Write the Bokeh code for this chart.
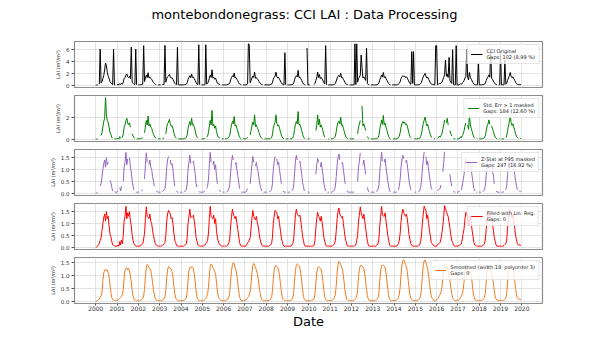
import numpy as np
import pandas as pd
from bokeh.plotting import figure
from bokeh.layouts import column
from bokeh.models import Range1d, FixedTicker, DatetimeTickFormatter, PrintfTickFormatter
from bokeh.embed import file_html
from bokeh.resources import INLINE

nan = float("nan")

# ---------------- data (two samples per month: day 1 and day 16) ----------------
years = list(range(2000, 2020))
sample_days = [1, 16]
year_ticks = list(range(2000, 2021))
title_text = "montebondonegrass: CCI LAI : Data Processing"

lai_original = [
    0.0, 0.02, 0.05, nan, 0.15, 6.1, 0.35, 0.6, 1.1, 1.6, 2.6, 3.75, 3.3, 2.2, 1.5, 1.1, 0.6, 0.35, 0.2, 0.1, 6.1, 0.05, 0.05, nan,
    0.05, 0.1, 0.05, 0.25, 0.1, 0.3, 0.15, 0.5, 1.1, 1.3, 1.72, 1.9, 1.45, 1.3, 1.5, 1.1, 6.45, 0.5, 0.3, 0.15, 0.1, 6.1, 0.05, nan,
    0.05, 0.05, 0.05, 0.1, 0.1, 0.15, 6.7, 0.6, 1.2, 1.7, 1.3, 2.1, 1.2, 1.4, 1.1, 1.0, 0.7, 0.45, 0.3, 0.15, 0.1, nan, 0.05, 0.05,
    0.05, 0.05, nan, 0.08, 0.1, 0.1, 6.75, 0.5, 1.1, 1.4, 1.55, 1.8, 1.4, 1.2, 1.25, 1.0, 0.6, 0.3, 0.15, 0.1, 6.4, 0.05, 0.05, 0.05,
    0.05, 0.05, 0.05, 0.05, 0.1, 0.1, 0.15, 0.4, 1.0, 1.3, 1.6, 1.25, 1.9, 1.3, 1.35, 1.1, 0.8, 0.4, 0.2, 0.1, 6.85, 0.05, nan, 0.05,
    0.05, 0.05, 0.05, 0.1, 6.85, 0.2, 0.3, 0.6, 1.2, 1.72, 1.3, 2.6, 1.2, 1.35, 1.0, 1.2, 0.7, 0.4, 0.2, 0.15, 0.1, nan, 0.05, 0.05,
    0.05, 0.05, 0.05, 0.05, 0.1, 0.1, 0.2, 0.35, 0.9, 1.3, 1.6, 1.4, 2.05, 1.2, 1.3, 1.0, 0.75, 0.4, 0.2, 0.1, 0.05, nan, 0.05, 0.05,
    0.05, 0.05, 0.1, 0.2, 7.0, 6.9, 0.4, 0.8, 1.2, 1.55, 1.3, 2.2, 1.15, 1.3, 1.05, 0.9, 0.6, 0.35, 0.2, 0.1, 0.05, nan, 0.05, 0.05,
    0.05, 0.05, 0.05, 0.05, 0.05, 0.1, 0.15, 0.4, 1.0, 1.3, 1.55, 2.2, 1.45, 1.2, 1.3, 1.0, 0.7, 0.4, 0.2, 0.1, 0.05, 5.5, 0.05, nan,
    0.05, 0.05, 0.05, 0.05, 0.05, 0.08, 0.15, 0.35, 0.9, 1.35, 1.6, 1.4, 2.5, 1.3, 1.35, 1.1, 0.8, 0.45, 0.2, 0.1, 0.05, nan, 6.3, 0.05,
    0.05, 0.05, nan, nan, 0.05, nan, 0.1, 0.3, 0.8, 1.2, 2.2, 1.3, 1.8, 1.1, 1.3, 1.05, 0.75, 0.4, 0.2, 6.7, 0.05, nan, 0.05, 0.05,
    0.05, 0.05, 0.05, 0.05, 0.1, 0.15, 0.3, 0.7, 1.2, 1.5, 1.65, 1.4, 2.0, 1.25, 1.3, 1.0, 0.7, 0.4, 0.2, 0.1, 0.05, nan, 0.05, 0.05,
    0.05, 0.05, 0.05, 0.05, 7.0, 0.1, 7.0, 0.5, 1.1, 1.35, 1.7, 5.1, 3.0, 1.2, 1.4, 1.1, 0.8, 6.3, 0.25, 0.1, 0.05, nan, 0.05, 0.05,
    0.05, 0.05, 0.05, 0.05, 0.05, 0.1, 0.15, 0.35, 0.9, 1.3, 1.72, 1.35, 2.15, 1.3, 1.45, 1.1, 0.8, 0.5, 0.25, 0.1, 0.05, nan, 0.05, 0.05,
    0.05, 0.05, 0.05, 0.05, 0.1, 0.15, 0.3, 0.6, 1.1, 1.4, 1.6, 1.45, 1.55, 1.3, 1.4, 1.2, 0.85, 0.5, 0.25, 0.15, 5.7, 0.3, 5.7, 0.05,
    0.05, 0.05, 0.05, 0.05, 0.1, 0.1, 0.25, 0.5, 1.0, 1.4, 1.73, 2.0, 1.55, 1.2, 1.35, 1.0, 0.7, 0.4, 0.2, 0.15, 0.1, 0.05, 0.05, 6.7,
    6.7, 0.1, 0.15, 0.3, 0.2, 0.35, 0.5, 0.9, 1.3, 1.75, 4.25, 1.5, 1.9, 1.3, 4.7, 0.8, 0.5, 0.3, 6.0, 0.1, 0.05, 0.05, 6.7, 0.05,
    0.05, 0.05, 0.1, 0.25, 0.15, 0.35, 0.5, 0.8, 1.2, 1.47, 6.1, 1.3, 0.9, 2.15, 1.3, 1.0, 0.7, 0.4, 0.2, 0.1, 0.05, 0.05, 0.05, 3.8,
    0.05, 0.05, 0.05, 0.05, 0.1, 0.1, 0.15, 0.35, 0.8, 1.2, 1.4, 1.75, 1.35, 5.7, 1.2, 0.95, 0.7, 0.4, 0.2, 0.1, 0.05, nan, 0.05, 0.05,
    5.7, 0.05, 0.05, 0.05, 0.05, 4.25, 0.15, 0.3, 0.8, 1.2, 1.6, 2.15, 1.5, 1.25, 1.4, 1.1, 0.8, 0.5, 0.25, 0.15, 0.1, 0.08, 0.1, 0.08,
]

lai_stderr_masked = [
    0.0, 0.02, 0.05, nan, 0.15, nan, 0.35, 0.6, 1.1, 1.6, 1.9, 3.75, 2.2, 1.7, 1.5, 1.1, 0.6, 0.45, 0.2, 0.1, nan, 0.05, 0.05, 0.05,
    0.05, 0.1, 0.05, 0.25, 0.1, nan, 0.15, 0.5, 1.1, 1.3, 1.72, 1.9, 1.45, 1.3, 1.5, 1.1, nan, 0.5, 0.3, 0.15, 0.1, nan, 0.05, 0.05,
    0.05, 0.05, 0.05, 0.1, 0.1, 0.15, nan, 0.6, 1.2, 1.7, 1.3, 2.1, 1.2, 1.4, 1.1, 1.0, 0.7, 0.45, 0.3, 0.15, 0.1, nan, 0.05, 0.05,
    0.05, 0.05, nan, 0.08, 0.1, 0.1, nan, 0.5, 1.1, 1.4, 1.55, 1.8, 1.4, 1.2, 1.25, 1.0, 0.6, 0.3, 0.15, 0.1, nan, 0.05, 0.05, 0.05,
    0.05, 0.05, 0.05, 0.05, 0.1, 0.1, 0.15, 0.4, 1.0, 1.3, 1.6, 1.25, 1.9, 1.3, 1.35, 1.1, 0.8, 0.4, 0.2, 0.1, nan, 0.05, nan, 0.05,
    0.05, 0.05, 0.05, 0.1, nan, 0.2, 0.3, 0.6, 1.2, 1.72, 1.3, 2.6, 1.2, 1.35, 1.0, 1.2, 0.7, 0.4, 0.2, 0.15, 0.1, nan, 0.05, 0.05,
    0.05, nan, 0.05, 0.05, 0.1, 0.1, 0.2, 0.35, 0.9, 1.3, 1.6, 1.4, 2.05, 1.2, 1.3, 1.0, 0.75, 0.4, 0.2, 0.1, 0.05, nan, 0.05, 0.05,
    0.05, 0.05, 0.1, 0.2, nan, nan, 0.4, 0.8, 1.2, 1.55, 1.3, 2.2, 1.15, 1.3, 1.05, 0.9, 0.6, 0.35, 0.2, 0.1, 0.05, nan, 0.05, 0.05,
    0.05, 0.05, 0.05, 0.05, 0.05, 0.1, 0.15, 0.4, 1.0, 1.3, 1.55, 2.2, 1.45, 1.2, 1.3, 1.0, 0.7, 0.4, 0.2, 0.1, 0.05, nan, 0.05, 0.05,
    0.05, 0.05, nan, 0.05, 0.05, 0.08, 0.15, 0.35, 0.9, 1.35, 1.6, 1.4, 2.5, 1.3, 1.35, 1.1, 0.8, 0.45, 0.2, 0.1, 0.05, nan, nan, 0.05,
    0.05, 0.05, nan, nan, nan, nan, nan, nan, 0.8, 1.2, 2.2, 1.3, 1.8, 1.1, 1.3, 1.05, 0.75, 0.4, 0.2, nan, 0.05, nan, 0.05, 0.05,
    nan, 0.05, 0.05, 0.05, 0.1, 0.15, 0.3, 0.7, 1.2, 1.5, 1.65, 1.4, 2.0, 1.25, 1.3, 1.0, 0.7, 0.4, 0.2, 0.1, 0.05, nan, 0.05, 0.05,
    0.05, 0.05, 0.05, 0.05, nan, 0.1, nan, 0.5, 1.1, 1.35, 1.7, nan, 3.0, 1.2, 1.4, 1.1, 0.8, nan, 0.25, 0.1, 0.05, nan, 0.05, 0.05,
    0.05, 0.05, 0.05, 0.05, 0.05, 0.1, 0.15, 0.35, 0.9, 1.3, 1.72, 1.35, 2.15, 1.3, 1.45, 1.1, 0.8, 0.5, 0.25, 0.1, 0.05, nan, nan, 0.05,
    0.05, 0.05, 0.05, 0.05, 0.1, 0.15, 0.3, 0.6, 1.1, 1.4, 1.6, 1.45, 1.55, 1.3, 1.4, 1.2, 0.85, 0.5, 0.25, 0.15, nan, 0.05, nan, 0.05,
    0.05, 0.05, 0.05, 0.05, 0.1, 0.1, 0.25, 0.5, 1.0, 1.4, 1.73, 2.0, 1.55, 1.2, 1.35, 1.0, 0.7, 0.4, 0.2, 0.15, nan, 0.05, 0.05, nan,
    nan, 0.1, 0.15, 0.3, 0.2, 0.35, 0.5, 0.9, 1.3, 1.75, nan, 1.5, 1.9, 1.3, nan, 0.8, 0.5, 0.3, nan, 0.1, 0.05, 0.05, nan, 0.05,
    0.05, 0.05, 0.1, 0.25, 0.15, 0.35, 0.5, 0.8, 1.2, 1.47, nan, 1.3, 0.9, 2.15, 1.3, 1.0, 0.7, 0.4, 0.2, 0.1, nan, 0.05, 0.05, nan,
    0.05, 0.05, 0.05, 0.05, 0.1, 0.1, 0.15, 0.35, 0.8, 1.2, 1.4, 1.75, 1.35, nan, 1.2, 0.95, 0.7, 0.4, 0.2, 0.1, 0.05, nan, 0.05, 0.05,
    nan, 0.05, 0.05, 0.05, 0.05, nan, 0.15, 0.3, 0.8, 1.2, 1.6, 2.15, 1.5, 1.25, 1.4, 1.1, 0.8, 0.5, 0.25, 0.15, 0.1, nan, 0.1, 0.08,
]

lai_zstat_masked = [
    0.0, 0.02, 0.05, nan, nan, 0.3, 0.4, 0.7, 1.0, 1.25, 1.4, 1.1, 1.5, 1.2, 1.3, nan, 0.55, 0.45, 0.25, 0.1, nan, 0.06, 0.05, 0.05,
    0.05, 0.1, nan, 0.25, 0.1, 0.3, nan, 0.5, 1.1, 1.3, 1.72, 1.2, 1.45, nan, 1.5, 1.1, 0.9, 0.5, 0.3, 0.15, nan, 0.05, 0.05, 0.05,
    0.05, 0.05, nan, 0.1, 0.12, 0.15, nan, 0.6, 1.2, 1.7, 1.3, nan, 1.2, 1.4, 1.1, 1.0, 0.7, 0.5, 0.3, nan, 0.1, 0.08, 0.05, 0.05,
    0.05, 0.05, nan, 0.08, 0.1, 0.15, 0.2, 0.5, 1.1, 1.4, 1.55, nan, 1.4, 1.2, 1.25, 1.0, 0.6, 0.3, nan, 0.1, 0.05, 0.05, nan, 0.05,
    0.05, 0.05, nan, 0.05, 0.08, 0.1, 0.15, 0.4, 1.0, 1.3, 1.6, 1.25, nan, 1.3, 1.35, 1.1, 0.8, 0.4, 0.25, nan, 0.08, 0.06, 0.05, 0.05,
    0.05, 0.05, 0.08, 0.1, nan, 0.2, 0.3, 0.6, 1.2, 1.72, 1.3, nan, 1.2, 1.35, 1.0, 1.2, 0.7, 0.4, nan, 0.15, 0.1, 0.08, nan, 0.05,
    0.05, 0.05, nan, 0.05, 0.08, 0.1, 0.2, 0.35, 0.9, 1.3, 1.6, 1.4, nan, 1.2, 1.3, 1.0, 0.75, 0.48, 0.2, nan, 0.05, 0.05, 0.05, 0.05,
    0.05, 0.05, 0.12, 0.2, nan, nan, 0.4, 0.8, 1.2, 1.55, 1.3, nan, 1.15, 1.3, 1.05, 0.9, 0.6, 0.35, 0.22, 0.1, nan, 0.05, 0.05, 0.05,
    0.05, 0.05, nan, 0.05, 0.08, 0.1, 0.15, 0.4, 1.0, 1.3, 1.55, nan, 1.45, 1.2, 1.3, 1.0, 0.7, 0.4, nan, 0.1, 0.05, 0.05, 0.05, nan,
    0.05, 0.05, 0.05, 0.05, nan, 0.1, 0.15, 0.35, 0.85, 1.35, 1.6, 1.4, nan, 1.3, 1.35, 1.1, 0.8, 0.45, 0.28, 0.1, nan, 0.05, nan, 0.05,
    0.05, 0.05, nan, nan, nan, nan, nan, nan, 0.8, 1.2, 1.47, 1.3, nan, 1.1, 1.3, 1.05, 0.75, 0.4, 0.25, 0.1, nan, 0.05, 0.05, 0.05,
    nan, 0.05, 0.05, 0.08, 0.1, 0.15, 0.3, 0.7, 1.2, 1.5, 1.65, 1.4, nan, 1.25, 1.3, 1.0, 0.7, 0.4, nan, 0.1, 0.05, 0.05, 0.05, 0.05,
    0.05, 0.05, 0.05, 0.05, nan, 0.1, nan, 0.5, 1.1, 1.35, 1.7, nan, nan, 1.2, 1.4, 1.1, 0.8, nan, 0.25, 0.1, 0.05, nan, 0.05, 0.05,
    0.05, 0.05, 0.05, nan, 0.08, 0.1, 0.15, 0.35, 0.9, 1.3, 1.72, 1.35, nan, 1.3, 1.45, 1.1, 0.8, 0.5, 0.3, 0.1, 0.05, nan, nan, 0.05,
    0.05, 0.05, 0.05, 0.05, nan, 0.15, 0.3, 0.6, 1.1, 1.4, 1.6, 1.45, nan, 1.3, 1.4, 1.2, 0.85, 0.5, 0.32, 0.15, nan, 0.05, nan, 0.05,
    0.05, 0.05, nan, 0.05, 0.08, 0.1, 0.25, 0.5, 1.0, 1.4, 1.73, nan, 1.55, 1.2, 1.35, 1.0, 0.7, 0.45, 0.2, 0.15, nan, 0.05, 0.05, nan,
    nan, 0.1, 0.15, 0.18, 0.2, 0.35, nan, 0.9, 1.3, 1.75, nan, 1.5, nan, 1.3, nan, 0.8, 0.5, 0.3, nan, 0.1, 0.05, 0.05, nan, 0.05,
    0.05, 0.08, 0.1, nan, 0.15, 0.35, 0.58, 0.8, 1.2, 1.47, nan, 1.3, 0.9, nan, 1.3, 1.0, 0.7, 0.45, 0.2, 0.1, nan, 0.05, 0.05, nan,
    0.05, 0.05, 0.05, nan, 0.08, 0.1, 0.15, 0.35, 0.8, 1.2, 1.4, nan, 1.35, 1.28, 1.2, 0.95, 0.7, 0.4, nan, 0.1, 0.05, 0.05, 0.05, 0.05,
    nan, 0.05, 0.05, 0.05, 0.08, nan, 0.15, 0.3, 0.8, 1.2, 1.6, nan, 1.5, 1.25, 1.4, 1.1, 0.8, 0.5, 0.32, 0.15, nan, 0.1, 0.1, 0.08,
]

lai_filled = [
    0.0, 0.02, 0.05, 0.1, 0.15, 0.3, 0.4, 0.7, 1.0, 1.25, 1.4, 1.1, 1.5, 1.2, 1.3, 0.9, 0.55, 0.45, 0.25, 0.1, 0.08, 0.06, 0.05, 0.05,
    0.05, 0.1, 0.05, 0.25, 0.1, 0.3, 0.15, 0.5, 1.1, 1.3, 1.72, 1.2, 1.45, 1.3, 1.5, 1.1, 0.9, 0.5, 0.3, 0.15, 0.1, 0.05, 0.05, 0.05,
    0.05, 0.05, 0.05, 0.1, 0.12, 0.15, 0.35, 0.6, 1.2, 1.7, 1.3, 1.25, 1.2, 1.4, 1.1, 1.0, 0.7, 0.5, 0.3, 0.15, 0.1, 0.08, 0.05, 0.05,
    0.05, 0.05, 0.06, 0.08, 0.1, 0.15, 0.2, 0.5, 1.1, 1.4, 1.55, 1.48, 1.4, 1.2, 1.25, 1.0, 0.6, 0.3, 0.2, 0.1, 0.05, 0.05, 0.05, 0.05,
    0.05, 0.05, 0.05, 0.05, 0.08, 0.1, 0.15, 0.4, 1.0, 1.3, 1.6, 1.25, 1.28, 1.3, 1.35, 1.1, 0.8, 0.4, 0.25, 0.1, 0.08, 0.06, 0.05, 0.05,
    0.05, 0.05, 0.08, 0.1, 0.15, 0.2, 0.3, 0.6, 1.2, 1.72, 1.3, 1.25, 1.2, 1.35, 1.0, 1.2, 0.7, 0.4, 0.28, 0.15, 0.1, 0.08, 0.05, 0.05,
    0.05, 0.05, 0.05, 0.05, 0.08, 0.1, 0.2, 0.35, 0.9, 1.3, 1.6, 1.4, 1.3, 1.2, 1.3, 1.0, 0.75, 0.48, 0.2, 0.1, 0.05, 0.05, 0.05, 0.05,
    0.05, 0.05, 0.12, 0.2, 0.22, 0.3, 0.4, 0.8, 1.2, 1.55, 1.3, 1.22, 1.15, 1.3, 1.05, 0.9, 0.6, 0.35, 0.22, 0.1, 0.05, 0.05, 0.05, 0.05,
    0.05, 0.05, 0.05, 0.05, 0.08, 0.1, 0.15, 0.4, 1.0, 1.3, 1.55, 1.5, 1.45, 1.2, 1.3, 1.0, 0.7, 0.4, 0.25, 0.1, 0.05, 0.05, 0.05, 0.05,
    0.05, 0.05, 0.05, 0.05, 0.05, 0.1, 0.15, 0.35, 0.85, 1.35, 1.6, 1.4, 1.35, 1.3, 1.35, 1.1, 0.8, 0.45, 0.28, 0.1, 0.05, 0.05, 0.05, 0.05,
    0.05, 0.05, 0.05, 0.05, 0.05, 0.05, 0.1, 0.3, 0.8, 1.2, 1.47, 1.3, 1.25, 1.1, 1.3, 1.05, 0.75, 0.4, 0.25, 0.1, 0.05, 0.05, 0.05, 0.05,
    0.05, 0.05, 0.05, 0.08, 0.1, 0.15, 0.3, 0.7, 1.2, 1.5, 1.65, 1.4, 1.32, 1.25, 1.3, 1.0, 0.7, 0.4, 0.25, 0.1, 0.05, 0.05, 0.05, 0.05,
    0.05, 0.05, 0.05, 0.05, 0.08, 0.1, 0.3, 0.5, 1.1, 1.35, 1.7, 1.45, 1.32, 1.2, 1.4, 1.1, 0.8, 0.52, 0.25, 0.1, 0.05, 0.05, 0.05, 0.05,
    0.05, 0.05, 0.05, 0.05, 0.08, 0.1, 0.15, 0.35, 0.9, 1.3, 1.72, 1.35, 1.32, 1.3, 1.45, 1.1, 0.8, 0.5, 0.3, 0.1, 0.05, 0.05, 0.05, 0.05,
    0.05, 0.05, 0.05, 0.05, 0.1, 0.15, 0.3, 0.6, 1.1, 1.4, 1.6, 1.45, 1.38, 1.3, 1.4, 1.2, 0.85, 0.5, 0.32, 0.15, 0.1, 0.05, 0.05, 0.05,
    0.05, 0.05, 0.05, 0.05, 0.08, 0.1, 0.25, 0.5, 1.0, 1.4, 1.73, 1.64, 1.55, 1.2, 1.35, 1.0, 0.7, 0.45, 0.2, 0.15, 0.1, 0.05, 0.05, 0.05,
    0.05, 0.1, 0.15, 0.18, 0.2, 0.35, 0.62, 0.9, 1.3, 1.75, 1.62, 1.5, 1.4, 1.3, 1.05, 0.8, 0.5, 0.3, 0.2, 0.1, 0.05, 0.05, 0.05, 0.05,
    0.05, 0.08, 0.1, 0.12, 0.15, 0.35, 0.58, 0.8, 1.2, 1.47, 1.38, 1.3, 0.9, 1.1, 1.3, 1.0, 0.7, 0.45, 0.2, 0.1, 0.08, 0.05, 0.05, 0.05,
    0.05, 0.05, 0.05, 0.05, 0.08, 0.1, 0.15, 0.35, 0.8, 1.2, 1.4, 1.38, 1.35, 1.28, 1.2, 0.95, 0.7, 0.4, 0.25, 0.1, 0.05, 0.05, 0.05, 0.05,
    0.05, 0.05, 0.05, 0.05, 0.08, 0.12, 0.15, 0.3, 0.8, 1.2, 1.6, 1.55, 1.5, 1.25, 1.4, 1.1, 0.8, 0.5, 0.32, 0.15, 0.1, 0.1, 0.1, 0.08,
]

lai_smoothed = [
    0.0, 0.02, 0.04, 0.06, 0.1, 0.15, 0.22, 0.35, 0.8, 1.1, 1.2, 1.25, 1.18, 1.22, 1.12, 0.95, 0.65, 0.35, 0.15, 0.07, 0.05, 0.04, 0.04, 0.04,
    0.04, 0.06, 0.08, 0.12, 0.15, 0.2, 0.25, 0.45, 0.9, 1.2, 1.27, 1.3, 1.22, 1.28, 1.18, 1.0, 0.75, 0.42, 0.2, 0.09, 0.05, 0.04, 0.03, 0.03,
    0.03, 0.03, 0.04, 0.06, 0.08, 0.12, 0.22, 0.5, 0.95, 1.3, 1.43, 1.38, 1.3, 1.28, 1.2, 1.0, 0.72, 0.45, 0.25, 0.12, 0.06, 0.04, 0.03, 0.03,
    0.03, 0.03, 0.03, 0.05, 0.07, 0.1, 0.18, 0.42, 0.9, 1.22, 1.35, 1.32, 1.28, 1.25, 1.15, 0.95, 0.6, 0.3, 0.14, 0.07, 0.04, 0.03, 0.03, 0.03,
    0.03, 0.03, 0.03, 0.04, 0.06, 0.08, 0.14, 0.35, 0.82, 1.18, 1.3, 1.35, 1.3, 1.33, 1.25, 1.05, 0.75, 0.4, 0.18, 0.08, 0.05, 0.03, 0.03, 0.03,
    0.03, 0.04, 0.05, 0.08, 0.12, 0.18, 0.3, 0.55, 1.0, 1.35, 1.45, 1.4, 1.3, 1.25, 1.15, 1.05, 0.72, 0.4, 0.2, 0.12, 0.07, 0.04, 0.03, 0.03,
    0.03, 0.03, 0.03, 0.05, 0.07, 0.1, 0.17, 0.35, 0.8, 1.2, 1.42, 1.5, 1.45, 1.3, 1.22, 1.0, 0.72, 0.4, 0.18, 0.08, 0.04, 0.03, 0.03, 0.03,
    0.04, 0.06, 0.1, 0.15, 0.18, 0.25, 0.4, 0.7, 1.1, 1.4, 1.47, 1.4, 1.3, 1.22, 1.08, 0.88, 0.6, 0.35, 0.18, 0.08, 0.04, 0.03, 0.03, 0.03,
    0.03, 0.03, 0.03, 0.04, 0.05, 0.08, 0.14, 0.38, 0.85, 1.2, 1.38, 1.4, 1.36, 1.3, 1.22, 1.0, 0.7, 0.4, 0.18, 0.08, 0.04, 0.03, 0.03, 0.03,
    0.03, 0.03, 0.03, 0.04, 0.05, 0.07, 0.13, 0.33, 0.8, 1.2, 1.42, 1.45, 1.42, 1.38, 1.28, 1.08, 0.78, 0.45, 0.2, 0.08, 0.04, 0.03, 0.03, 0.03,
    0.03, 0.03, 0.03, 0.04, 0.05, 0.06, 0.1, 0.28, 0.72, 1.1, 1.3, 1.35, 1.32, 1.28, 1.22, 1.03, 0.74, 0.4, 0.18, 0.08, 0.04, 0.03, 0.03, 0.03,
    0.03, 0.03, 0.04, 0.06, 0.09, 0.15, 0.28, 0.62, 1.1, 1.42, 1.55, 1.5, 1.42, 1.33, 1.22, 0.98, 0.68, 0.38, 0.18, 0.08, 0.04, 0.03, 0.03, 0.03,
    0.03, 0.03, 0.04, 0.05, 0.08, 0.12, 0.2, 0.45, 0.95, 1.25, 1.38, 1.4, 1.37, 1.33, 1.28, 1.08, 0.78, 0.46, 0.22, 0.09, 0.04, 0.03, 0.03, 0.03,
    0.03, 0.03, 0.03, 0.04, 0.05, 0.08, 0.14, 0.33, 0.8, 1.2, 1.38, 1.4, 1.4, 1.37, 1.3, 1.1, 0.8, 0.48, 0.22, 0.09, 0.04, 0.03, 0.03, 0.03,
    0.03, 0.03, 0.04, 0.06, 0.09, 0.15, 0.28, 0.55, 1.05, 1.4, 1.58, 1.6, 1.52, 1.42, 1.35, 1.15, 0.82, 0.5, 0.24, 0.12, 0.06, 0.04, 0.03, 0.03,
    0.03, 0.03, 0.04, 0.05, 0.08, 0.12, 0.23, 0.48, 0.98, 1.38, 1.58, 1.6, 1.5, 1.38, 1.25, 1.0, 0.7, 0.4, 0.2, 0.12, 0.07, 0.04, 0.03, 0.04,
    0.06, 0.1, 0.15, 0.22, 0.28, 0.38, 0.55, 0.9, 1.25, 1.45, 1.42, 1.35, 1.28, 1.2, 1.02, 0.8, 0.52, 0.3, 0.15, 0.08, 0.04, 0.03, 0.03, 0.03,
    0.04, 0.06, 0.1, 0.15, 0.2, 0.3, 0.48, 0.78, 1.15, 1.35, 1.28, 1.12, 1.05, 1.15, 1.2, 1.02, 0.72, 0.4, 0.2, 0.09, 0.04, 0.03, 0.03, 0.04,
    0.04, 0.04, 0.04, 0.05, 0.07, 0.1, 0.16, 0.35, 0.78, 1.12, 1.3, 1.3, 1.27, 1.2, 1.12, 0.95, 0.7, 0.4, 0.2, 0.09, 0.05, 0.04, 0.04, 0.04,
    0.04, 0.04, 0.04, 0.04, 0.05, 0.08, 0.13, 0.3, 0.75, 1.12, 1.32, 1.35, 1.33, 1.3, 1.25, 1.08, 0.8, 0.5, 0.25, 0.14, 0.1, 0.08, 0.08, 0.07,
]

panel_labels = [
    "CCI Original\nGaps: 102 (8.99 %)",
    "Std. Err > 1 masked\nGaps: 184 (12.60 %)",
    "Z-Stat at P95 masked\nGaps: 247 (16.92 %)",
    "Filled with Lin. Reg.\nGaps: 0",
    "Smoothed (width 19, polyorder 3)\nGaps: 0",
]
panel_colors = ["black", "green", "#9467bd", "red", "#f07b1f"]
panel_yticks = [[0, 2, 4, 6], [0, 2], [0.0, 0.5, 1.0, 1.5], [0.0, 0.5, 1.0, 1.5], [0.0, 0.5, 1.0, 1.5]]
panel_ylims = [(-0.4, 7.4), (-0.19, 3.94), (-0.09, 1.84), (-0.09, 1.84), (-0.08, 1.7)]
panel_fmt = ["%d", "%d", "%.1f", "%.1f", "%.1f"]
series = [lai_original, lai_stderr_masked, lai_zstat_masked, lai_filled, lai_smoothed]

# ---------------- build ----------------
dates = pd.to_datetime([f"{y}-{m:02d}-{d:02d}" for y in years for m in range(1, 13) for d in sample_days])
for s in series:
    assert len(s) == len(dates), len(s)

x_range = Range1d(pd.Timestamp("1999-01-01"), pd.Timestamp("2020-12-20"))
tick_ms = [pd.Timestamp(f"{y}-01-01").value / 1e6 for y in year_ticks]
FONT = "DejaVu Sans"
FRAME_W, FRAME_H = 468, 46

# title strip (a figure that only carries the overall title)
head = figure(width=598, height=41, title=title_text, toolbar_location=None, output_backend="svg")
head.min_border_left = 66
head.min_border_right = 64
head.min_border_top = 0
head.min_border_bottom = 0
head.outline_line_color = None
head.axis.visible = False
head.grid.visible = False
head.title.align = "center"
head.title.text_font = FONT
head.title.text_font_size = "13px"
head.title.text_font_style = "normal"
head.title.text_color = "black"
head.title.standoff = 8

tops = [0, 4, 4, 4, 4]
bottoms = [4, 4, 4, 4, 5]

figs = [head]
for i in range(5):
    p = figure(frame_width=FRAME_W, frame_height=FRAME_H, x_range=x_range,
               y_range=Range1d(*panel_ylims[i]), x_axis_type="datetime",
               output_backend="svg", toolbar_location=None, title=None)
    p.min_border_left = 74
    p.min_border_right = 56
    p.min_border_top = tops[i]
    p.min_border_bottom = bottoms[i]
    p.background_fill_color = "white"
    p.border_fill_color = "white"
    p.outline_line_color = "#8c8c8c"
    p.outline_line_width = 1.2

    y = np.array(series[i], dtype=float)
    p.line(dates, y, line_color=panel_colors[i], line_width=1.0, legend_label=panel_labels[i])

    # axes
    p.xaxis.ticker = FixedTicker(ticks=tick_ms)
    p.xaxis.formatter = DatetimeTickFormatter(years="%Y", months="%Y", days="%Y", hours="%Y")
    p.yaxis.ticker = FixedTicker(ticks=panel_yticks[i])
    p.yaxis.formatter = PrintfTickFormatter(format=panel_fmt[i])
    for ax in (p.xaxis, p.yaxis):
        ax.axis_line_color = None
        ax.major_tick_in = 0
        ax.major_tick_out = 3
        ax.major_tick_line_color = "#555555"
        ax.minor_tick_line_color = None
        ax.major_label_text_font = FONT
        ax.major_label_text_color = "#333333"
    p.yaxis.major_label_text_font_size = "5.5px"
    p.yaxis.major_label_standoff = 2
    p.yaxis.axis_label = "LAI (m²/m²)"
    p.yaxis.axis_label_text_font = FONT
    p.yaxis.axis_label_text_font_size = "5px"
    p.yaxis.axis_label_text_font_style = "normal"
    p.yaxis.axis_label_text_color = "#333333"
    p.yaxis.axis_label_standoff = 2
    if i < 4:
        p.xaxis.visible = False
    else:
        p.xaxis.major_tick_out = 2
        p.xaxis.major_label_text_font_size = "6px"
        p.xaxis.major_label_standoff = 0
        p.xaxis.axis_label = "Date"
        p.xaxis.axis_label_text_font = FONT
        p.xaxis.axis_label_text_font_size = "13px"
        p.xaxis.axis_label_text_font_style = "normal"
        p.xaxis.axis_label_text_color = "black"
        p.xaxis.axis_label_standoff = 0

    p.xgrid.ticker = FixedTicker(ticks=tick_ms)
    p.xgrid.grid_line_color = "#dcdcdc"
    p.ygrid.grid_line_color = "#dcdcdc"
    p.xgrid.grid_line_width = 0.8
    p.ygrid.grid_line_width = 0.8

    lg = p.legend[0]
    lg.location = "top_right"
    lg.label_text_font = FONT
    lg.label_text_font_size = "5px"
    lg.label_text_color = "#222222"
    lg.glyph_width = 12
    lg.glyph_height = 8
    lg.label_standoff = 4
    lg.padding = 3
    lg.margin = 3
    lg.spacing = 0
    lg.label_height = 8
    lg.border_line_color = "#cccccc"
    lg.border_line_width = 0.8
    lg.background_fill_alpha = 0.8
    figs.append(p)

layout = column(*figs, spacing=0)
open("out.html", "w").write(file_html(layout, INLINE))
